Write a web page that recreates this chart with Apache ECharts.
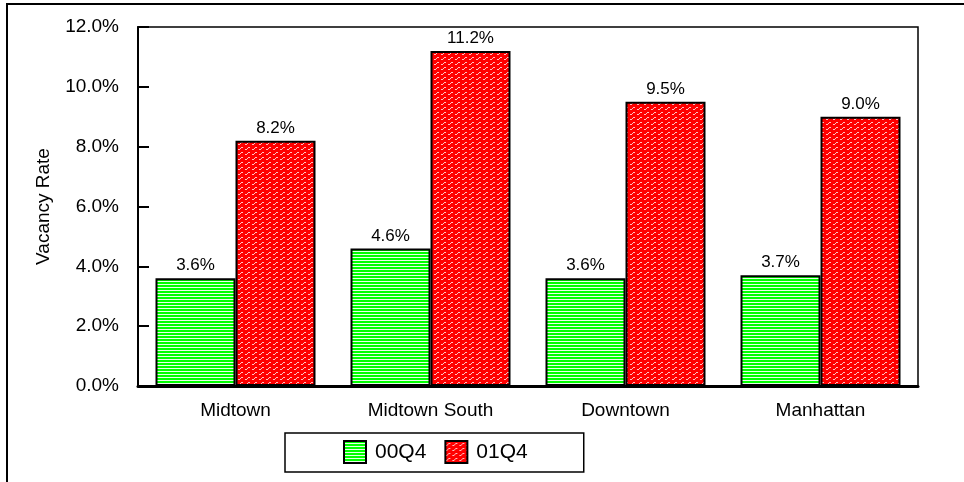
<!DOCTYPE html>
<html>
<head>
<meta charset="utf-8">
<script src="https://cdn.jsdelivr.net/npm/echarts@6/dist/echarts.min.js"></script>
<style>
html,body{margin:0;padding:0;background:#fff;}
#chart{width:964px;height:482px;}
</style>
</head>
<body>
<div id="chart"></div>
<script>
const categories = ['Midtown', 'Midtown South', 'Downtown', 'Manhattan'];
const seriesNames = ['00Q4', '01Q4'];
const values00Q4 = [3.6, 4.6, 3.6, 3.7];
const values01Q4 = [8.2, 11.2, 9.5, 9.0];
const yTicks = [0, 2, 4, 6, 8, 10, 12];

function greenPattern() {
  const c = document.createElement('canvas');
  c.width = 4; c.height = 3;
  const g = c.getContext('2d');
  g.fillStyle = '#00ff00'; g.fillRect(0, 0, 4, 3);
  g.fillStyle = '#e8ffe8'; g.fillRect(0, 2, 4, 1);
  return c;
}
function redPattern() {
  const c = document.createElement('canvas');
  c.width = 7; c.height = 5;
  const g = c.getContext('2d');
  g.fillStyle = '#ff0000'; g.fillRect(0, 0, 7, 5);
  g.fillStyle = '#ffc0c0';
  g.fillRect(0, 4, 2, 1);
  g.fillRect(2, 3, 1, 1);
  g.fillRect(3, 2, 2, 1);
  return c;
}

const chart = echarts.init(document.getElementById('chart'), null, {renderer: 'canvas'});
const font = 'Liberation Sans, Arial, sans-serif';
const labelStyle = {
  show: true, position: 'top', distance: 4,
  fontFamily: font, fontSize: 17, color: '#000',
  formatter: p => p.value.toFixed(1) + '%'
};
chart.setOption({
  animation: false,
  backgroundColor: '#fff',
  graphic: [{
    type: 'rect', z: -10, silent: true,
    shape: {x: 7, y: 4, width: 1000, height: 500},
    style: {fill: 'none', stroke: '#000', lineWidth: 2}
  }],
  grid: {
    left: 138, top: 27, right: 46, bottom: 96,
    show: true, borderColor: '#000', borderWidth: 1.5, backgroundColor: '#fff'
  },
  legend: {
    data: seriesNames,
    left: 285, top: 433,
    padding: [7, 56, 8, 58],
    borderColor: '#000', borderWidth: 1.5,
    itemWidth: 22, itemHeight: 22, itemGap: 18,
    icon: 'rect',
    textStyle: {fontFamily: font, fontSize: 21, color: '#000', padding: [0, 0, 0, 4]}
  },
  xAxis: {
    type: 'category', data: categories,
    axisLine: {show: true, lineStyle: {color: '#000', width: 3}},
    axisTick: {show: false},
    axisLabel: {fontFamily: font, fontSize: 19, color: '#000', margin: 15}
  },
  yAxis: {
    type: 'value', min: 0, max: 12, interval: 2, position: 'left',
    name: 'Vacancy Rate', nameLocation: 'middle', nameGap: 85, nameRotate: 90,
    nameTextStyle: {fontFamily: font, fontSize: 19, color: '#000'},
    axisLine: {show: true, lineStyle: {color: '#000', width: 2}},
    axisTick: {show: true, inside: true, length: 11, lineStyle: {color: '#000', width: 2}},
    splitLine: {show: false},
    axisLabel: {
      fontFamily: font, fontSize: 19, color: '#000', margin: 19,
      formatter: v => yTicks.indexOf(v) >= 0 ? v.toFixed(1) + '%' : ''
    }
  },
  series: [
    {
      name: seriesNames[0], type: 'bar', data: values00Q4,
      barWidth: 80, barGap: '0%',
      itemStyle: {color: {image: greenPattern(), repeat: 'repeat'}, borderColor: '#000', borderWidth: 2},
      label: labelStyle
    },
    {
      name: seriesNames[1], type: 'bar', data: values01Q4,
      barWidth: 80, barGap: '0%',
      itemStyle: {color: {image: redPattern(), repeat: 'repeat'}, borderColor: '#000', borderWidth: 2},
      label: labelStyle
    }
  ]
});
</script>
</body>
</html>
